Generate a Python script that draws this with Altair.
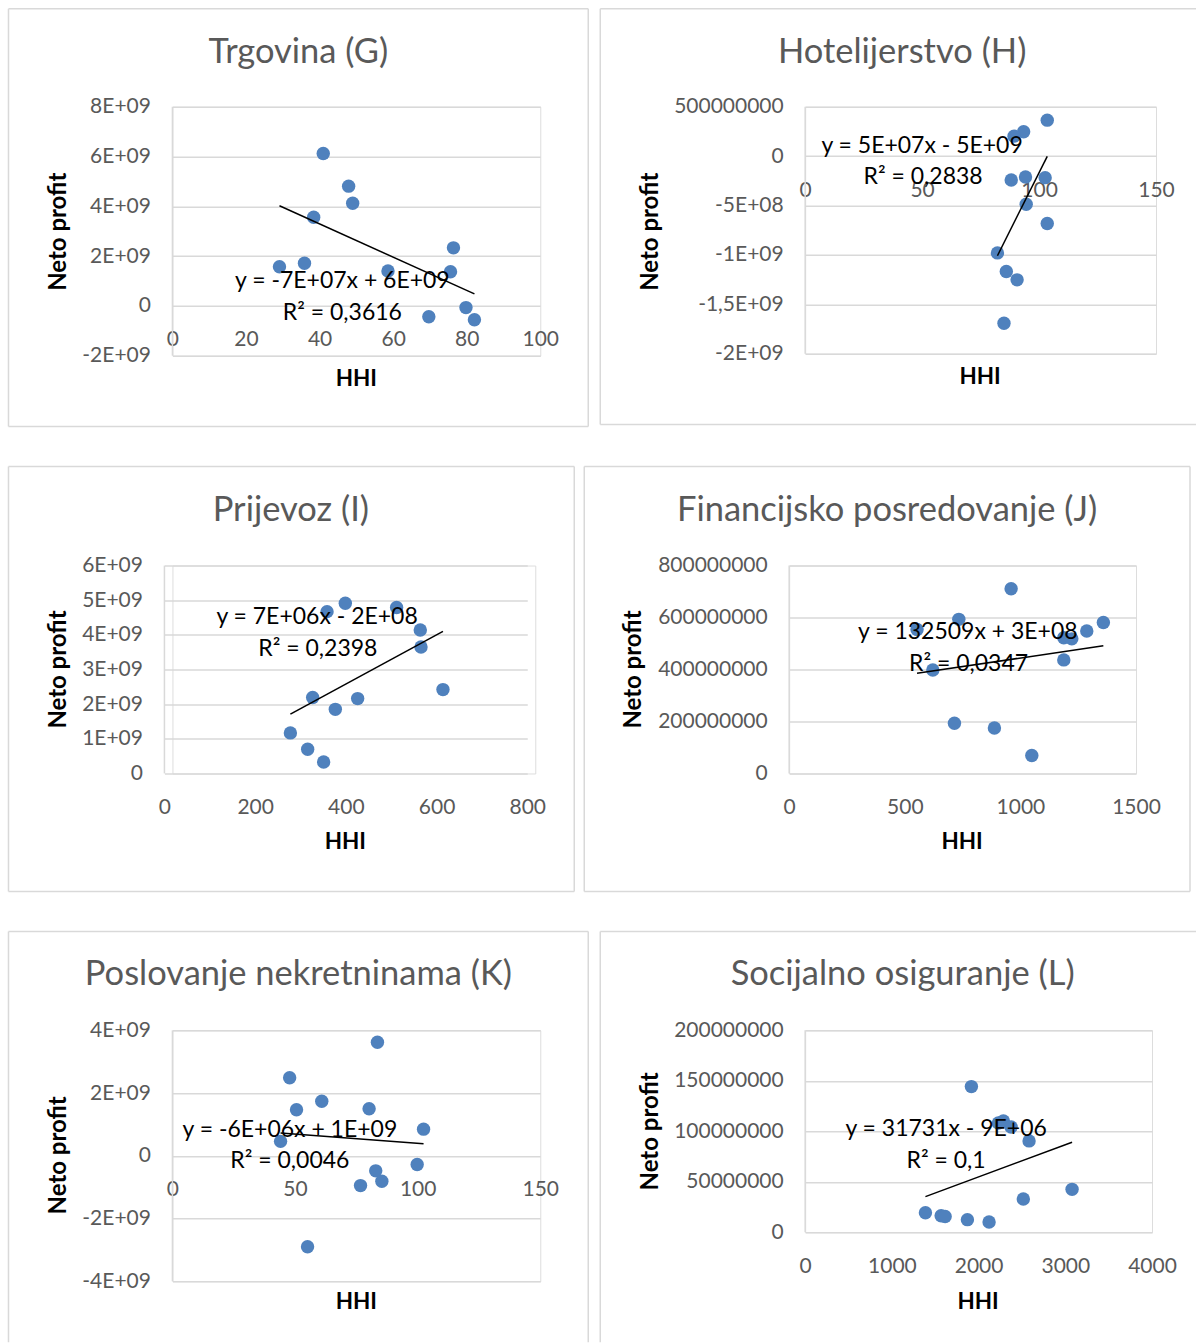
import altair as alt
import pandas as pd

FONT = "Lato"
BLUE = "#4F81BD"
GRID = "#D9D9D9"
GREY_TXT = "#595959"

X_TITLE = "HHI"
Y_TITLE = "Neto profit"

# ---------------- data ----------------
G_TITLE = "Trgovina (G)"
G_HHI = [29.1, 35.9, 38.4, 41.0, 47.9, 49.0, 58.6, 69.7, 75.6, 76.4, 79.8, 82.1]
G_PROFIT = [1.57e9, 1.71e9, 3.56e9, 6.12e9, 4.81e9, 4.12e9, 1.40e9, -0.44e9, 1.37e9, 2.33e9, -0.07e9, -0.56e9]
G_X_TICKS = [0, 20, 40, 60, 80, 100]
G_Y_TICKS = [-2e9, 0, 2e9, 4e9, 6e9, 8e9]
G_Y_LABELS = ["-2E+09", "0", "2E+09", "4E+09", "6E+09", "8E+09"]
G_EQ = ["y = -7E+07x + 6E+09", "R² = 0,3616"]

H_TITLE = "Hotelijerstvo (H)"
H_HHI = [103.5, 93.4, 89.3, 88.1, 94.2, 102.6, 94.5, 103.5, 82.2, 86.0, 90.6, 85.0]
H_PROFIT = [3.64e8, 2.46e8, 2.02e8, -2.42e8, -2.12e8, -2.18e8, -4.88e8, -6.83e8, -9.8e8, -1.168e9, -1.253e9, -1.693e9]
H_X_TICKS = [0, 50, 100, 150]
H_Y_TICKS = [-2e9, -1.5e9, -1e9, -5e8, 0, 5e8]
H_Y_LABELS = ["-2E+09", "-1,5E+09", "-1E+09", "-5E+08", "0", "500000000"]
H_EQ = ["y = 5E+07x - 5E+09", "R² = 0,2838"]

I_TITLE = "Prijevoz (I)"
I_HHI = [277.7, 315.8, 351.0, 326.8, 376.8, 426.0, 358.5, 398.8, 511.9, 564.1, 565.7, 614.1]
I_PROFIT = [1.17e9, 0.70e9, 0.33e9, 2.19e9, 1.85e9, 2.16e9, 4.67e9, 4.91e9, 4.79e9, 4.14e9, 3.65e9, 2.42e9]
I_X_TICKS = [0, 200, 400, 600, 800]
I_Y_TICKS = [0, 1e9, 2e9, 3e9, 4e9, 5e9, 6e9]
I_Y_LABELS = ["0", "1E+09", "2E+09", "3E+09", "4E+09", "5E+09", "6E+09"]
I_EQ = ["y = 7E+06x - 2E+08", "R² = 0,2398"]

J_TITLE = "Financijsko posredovanje (J)"
J_HHI = [553, 733.7, 621.3, 959.8, 714.7, 887.6, 1049.3, 1187.6, 1222.2, 1187.6, 1287, 1358.8]
J_PROFIT = [554e6, 593e6, 398e6, 711e6, 193e6, 175e6, 69e6, 522e6, 518e6, 437e6, 548e6, 581e6]
J_X_TICKS = [0, 500, 1000, 1500]
J_Y_TICKS = [0, 2e8, 4e8, 6e8, 8e8]
J_Y_LABELS = ["0", "200000000", "400000000", "600000000", "800000000"]
J_EQ = ["y = 132509x + 3E+08", "R² = 0,0347"]

K_TITLE = "Poslovanje nekretninama (K)"
K_HHI = [83.6, 47.8, 50.6, 60.9, 80.2, 102.4, 44.1, 99.8, 82.9, 85.4, 76.7, 55.1]
K_PROFIT = [3.62e9, 2.49e9, 1.47e9, 1.74e9, 1.50e9, 0.85e9, 0.46e9, -0.28e9, -0.48e9, -0.81e9, -0.95e9, -2.90e9]
K_X_TICKS = [0, 50, 100, 150]
K_Y_TICKS = [-4e9, -2e9, 0, 2e9, 4e9]
K_Y_LABELS = ["-4E+09", "-2E+09", "0", "2E+09", "4E+09"]
K_EQ = ["y = -6E+06x + 1E+09", "R² = 0,0046"]

L_TITLE = "Socijalno osiguranje (L)"
L_HHI = [1917, 2228, 2286, 2375, 2582, 3078, 2516, 1387, 1568, 1614, 1871, 2121]
L_PROFIT = [144.3e6, 108.3e6, 110.3e6, 104.3e6, 90.5e6, 42.5e6, 32.9e6, 19.4e6, 16.4e6, 15.6e6, 12.5e6, 10.2e6]
L_X_TICKS = [0, 1000, 2000, 3000, 4000]
L_Y_TICKS = [0, 5e7, 1e8, 1.5e8, 2e8]
L_Y_LABELS = ["0", "50000000", "100000000", "150000000", "200000000"]
L_EQ = ["y = 31731x - 9E+06", "R² = 0,1"]


def label_expr(ticks, labels):
    expr = "''"
    for t, l in reversed(list(zip(ticks, labels))):
        expr = f"datum.value == {float(t)!r} ? '{l}' : " + expr
    return expr


def one(k=0):
    return pd.DataFrame({"k": [k]})


def text_layer(txt, x, y, size, color, weight="normal", angle=0):
    return alt.Chart(pd.DataFrame({"t": [txt]})).mark_text(
        font=FONT, fontSize=size, color=color, fontWeight=weight,
        align="center", baseline="middle", angle=angle
    ).encode(x=alt.value(x), y=alt.value(y), text="t:N")


def rule_layer(x1, y1, x2, y2):
    return alt.Chart(one()).mark_rule(color=GRID, strokeWidth=1.5).encode(
        x=alt.value(x1), y=alt.value(y1), x2=alt.value(x2), y2=alt.value(y2))


def frame(l, t, r, b, sides, s):
    segs = []
    l, r = l + s, r + s
    if "l" in sides:
        segs.append(rule_layer(l, t, l, b))
    if "t" in sides:
        segs.append(rule_layer(l, t, r, t))
    if "r" in sides:
        segs.append(rule_layer(r, t, r, b))
    if "b" in sides:
        segs.append(rule_layer(l, b, r, b))
    return segs


def panel(title, hhi, profit, xticks, yticks, ylabels, eq, lay):
    w, h = lay["w"], lay["h"]
    s = lay.get("shift", 0)  # horizontal shift of the plot inside its cell
    ymin, ymax = yticks[0], yticks[-1]
    off = -h * (0 - ymin) / (ymax - ymin)
    df = pd.DataFrame({"HHI": hhi, "profit": profit})
    xs = alt.Scale(domain=[0, xticks[-1]], range=[s, w + s], nice=False, zero=False)
    ys = alt.Scale(domain=[ymin, ymax], nice=False, zero=False)
    xaxis = alt.Axis(values=xticks, format="d", labelFont=FONT, labelFontSize=21,
                     labelColor=GREY_TXT, ticks=False, tickSize=0, domain=False, grid=False,
                     title=None, labelPadding=23, labelFlush=False, labelOverlap=False,
                     offset=off)
    yaxis = alt.Axis(values=yticks, labelExpr=label_expr(yticks, ylabels), labelFont=FONT,
                     labelFontSize=21, labelColor=GREY_TXT, ticks=False, tickSize=0,
                     domain=False, grid=True,
                     gridColor=GRID, gridWidth=1.5, title=None, labelPadding=22,
                     labelOverlap=False, labelFlush=False, offset=-s)
    X = alt.X("HHI:Q", scale=xs, axis=xaxis)
    Y = alt.Y("profit:Q", scale=ys, axis=yaxis)
    base = alt.Chart(df)
    pts = base.mark_circle(size=180, color=BLUE, opacity=1).encode(x=X, y=Y)
    trend = base.transform_regression("HHI", "profit").mark_line(
        color="black", strokeWidth=1.5).encode(x=X, y=Y)
    # vertical axis line at the left edge of the plot
    axis_line = rule_layer(s, 0, s, h)
    layers = frame(*lay["frame"], s) + [axis_line, pts, trend]
    layers.append(text_layer(title, lay["title"][0] + s, lay["title"][1], 34.5, GREY_TXT))
    layers.append(text_layer(Y_TITLE, lay["yt"][0] + s, lay["yt"][1], 24, "black", "bold", 270))
    layers.append(text_layer(X_TITLE, lay["xt"][0] + s, lay["xt"][1], 22.5, "black", "bold"))
    layers.append(text_layer(eq[0], lay["eq"][0][0] + s, lay["eq"][0][1], 23, "black"))
    layers.append(text_layer(eq[1], lay["eq"][1][0] + s, lay["eq"][1][1], 23, "black"))
    return alt.layer(*layers).properties(width=w, height=h)


p1 = panel(G_TITLE, G_HHI, G_PROFIT, G_X_TICKS, G_Y_TICKS, G_Y_LABELS, G_EQ,
           dict(w=368, h=249, title=(126, -54), yt=(-113, 125), xt=(184, 272),
                eq=[(170, 174), (170, 206)], frame=(-164, -98, 416, 320, "ltrb")))
p2 = panel(H_TITLE, H_HHI, H_PROFIT, H_X_TICKS, H_Y_TICKS, H_Y_LABELS, H_EQ,
           dict(w=351, h=247, title=(97, -54), yt=(-154, 125), xt=(175, 270),
                eq=[(117, 39), (118, 70)], frame=(-205, -98, 391, 318, "ltb")))
p3 = panel(I_TITLE, I_HHI, I_PROFIT, I_X_TICKS, I_Y_TICKS, I_Y_LABELS, I_EQ,
           dict(w=363, h=208, title=(126.5, -55), yt=(-105, 104), xt=(181, 277),
                eq=[(152.7, 51), (153.5, 83)], frame=(-156, -99, 410, 326, "ltrb"),
                shift=-8))
p4 = panel(J_TITLE, J_HHI, J_PROFIT, J_X_TICKS, J_Y_TICKS, J_Y_LABELS, J_EQ,
           dict(w=347, h=208, title=(98, -55), yt=(-155, 104), xt=(173, 277),
                eq=[(178.7, 66.7), (179.5, 98.3)], frame=(-205, -99, 401, 326, "ltrb")))
p5 = panel(K_TITLE, K_HHI, K_PROFIT, K_X_TICKS, K_Y_TICKS, K_Y_LABELS, K_EQ,
           dict(w=368, h=251, title=(126, -55), yt=(-113, 125), xt=(184, 272),
                eq=[(117.5, 99.3), (117.5, 131)], frame=(-164, -99, 416, 312, "ltr")))
p6 = panel(L_TITLE, L_HHI, L_PROFIT, L_X_TICKS, L_Y_TICKS, L_Y_LABELS, L_EQ,
           dict(w=347, h=202, title=(97.5, -55), yt=(-154, 101), xt=(173, 272),
                eq=[(141, 98.3), (141, 130.7)], frame=(-205, -99, 391, 312, "lt")))

row1 = alt.hconcat(p1, p2, spacing=8)
row2 = alt.hconcat(p3, p4, spacing=6)
row3 = alt.hconcat(p5, p6, spacing=8)

chart = alt.vconcat(row1, row2, row3, spacing=36).properties(
    padding={"left": 6.5, "top": 6.5, "right": 0, "bottom": 0}
).configure_view(stroke=None).configure(background="white")

chart.save("out.html", embed_options={"renderer": "svg", "actions": False})
